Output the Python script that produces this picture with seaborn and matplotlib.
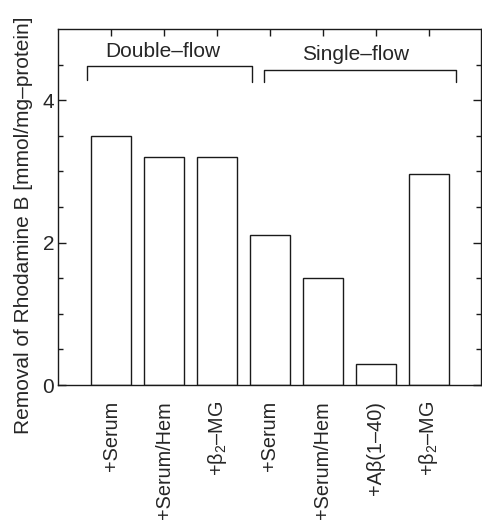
import matplotlib
matplotlib.use("Agg")
import matplotlib.pyplot as plt
import seaborn as sns
import pandas as pd

# ---- data ----
conditions = ["DF +Serum", "DF +Serum/Hem", "DF +b2MG",
              "SF +Serum", "SF +Serum/Hem", "SF +Abeta", "SF +b2MG"]
tick_labels = ["+Serum", "+Serum/Hem", "+β$_2$–MG",
               "+Serum", "+Serum/Hem", "+Aβ(1–40)", "+β$_2$–MG"]
values = [3.50, 3.20, 3.20, 2.10, 1.50, 0.30, 2.97]
group_names = ["Double–flow", "Single–flow"]
y_label = "Removal of Rhodamine B [mmol/mg–protein]"
y_ticks = [0, 2, 4]

sns.set_style("ticks")
plt.rcParams["font.family"] = ["Liberation Sans", "DejaVu Sans"]
plt.rcParams["mathtext.fontset"] = "custom"
plt.rcParams["mathtext.rm"] = "Liberation Sans"
plt.rcParams["mathtext.it"] = "Liberation Sans:italic"
plt.rcParams["mathtext.bf"] = "Liberation Sans:bold"

df = pd.DataFrame({"condition": conditions, "value": values})

fig = plt.figure(figsize=(4.82, 5.20), dpi=100)
ax = fig.add_axes([0.120, 0.2596, 0.878, 0.6846])

sns.barplot(data=df, x="condition", y="value", order=conditions,
            color="white", edgecolor="#1a1a1a", linewidth=1.0,
            width=0.76, saturation=1, ax=ax, zorder=2)

ax.set_xlim(-1.01, 6.99)
ax.set_ylim(0, 5)
ax.set_yticks(y_ticks)
ax.set_yticks([0.5, 1, 1.5, 2.5, 3, 3.5, 4.5], minor=True)
ax.set_xticks(range(len(conditions)))
ax.set_xticklabels(tick_labels, rotation=90, fontsize=14.3)
ax.tick_params(axis="y", which="major", direction="in", length=6, width=1.0,
               labelsize=15, right=True, pad=2.5, color="#1a1a1a")
ax.tick_params(axis="y", which="minor", direction="in", length=3.5, width=1.0,
               right=True, color="#1a1a1a")
ax.tick_params(axis="x", which="major", direction="in", length=5, width=1.0,
               top=True, bottom=False, pad=11.5, color="#1a1a1a")
for s in ax.spines.values():
    s.set_visible(True)
    s.set_linewidth(1.0)
    s.set_color("#1a1a1a")

ax.set_xlabel("")
ax.set_ylabel(y_label, fontsize=15)
ax.yaxis.set_label_coords(-0.059, 0.45)

# group brackets
lw = 1.0
ax.plot([-0.46, -0.46, 2.66, 2.66], [4.28, 4.48, 4.48, 4.25],
        color="#1a1a1a", lw=lw, clip_on=False)
ax.plot([2.89, 2.89, 6.52, 6.52], [4.25, 4.43, 4.43, 4.25],
        color="#1a1a1a", lw=lw, clip_on=False)
ax.text(0.975, 4.68, group_names[0], ha="center", va="center", fontsize=15)
ax.text(4.61, 4.64, group_names[1], ha="center", va="center", fontsize=15)

fig.savefig("out.png", dpi=100)
